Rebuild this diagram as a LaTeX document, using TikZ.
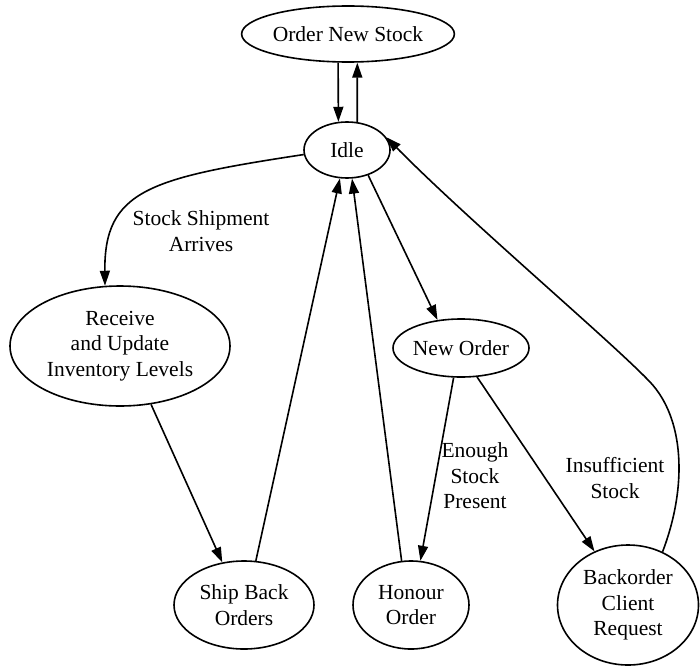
\documentclass[tikz,border=0pt]{standalone}
\usepackage{fontspec}
\setmainfont{Liberation Serif}
\usetikzlibrary{arrows.meta,shapes.geometric}
\begin{document}
\begin{tikzpicture}[x=1pt,y=-1pt,
  state/.style={draw,ellipse,line width=1.6pt,inner sep=0pt,align=center,
    font=\fontsize{21.5}{25.5}\selectfont},
  edge/.style={line width=1.6pt,-{Triangle[length=15pt,width=10pt]}},
  lbl/.style={align=center,font=\fontsize{21.5}{25.5}\selectfont}]
\useasboundingbox (0,0) rectangle (700,666);

% states
\node[state,minimum width=192pt,minimum height=56pt] (ons) at (348,34) {Order New Stock};
\node[state,minimum width=86pt,minimum height=56pt] (idle) at (347,150) {Idle};
\node[state,minimum width=220pt,minimum height=120pt] (rcv) at (120,346) {Receive\\and Update\\Inventory Levels};
\node[state,minimum width=136pt,minimum height=58pt] (neworder) at (461,348) {New Order};
\node[state,minimum width=140pt,minimum height=88pt] (ship) at (244,605) {Ship Back\\Orders};
\node[state,minimum width=116pt,minimum height=88pt] (honour) at (411,605) {Honour\\Order};
\node[state,minimum width=141pt,minimum height=120pt] (back) at (628,605) {Backorder\\Client\\Request};

% transitions
\draw[edge] (ons.-109.7) -- (idle.107.8);
\draw[edge] (idle.70.3) -- (ons.-72.2);
\draw[edge] (idle.186.8) .. controls (150,178) and (104,190) .. (rcv.104.6);
\draw[edge] (rcv.-62) -- (ship.117);
\draw[edge] (ship.75.7) -- (idle.-104);
\draw[edge] (honour.102.8) -- (idle.-80);
\draw[edge] (idle.-50) -- (neworder.130);
\draw[edge] (neworder.-104) -- (honour.78.4);
\draw[edge] (neworder.-61.8) -- (back.122.7);
\draw[edge] (back.57) .. controls (688,485) and (684,418) .. (650,382)
  .. controls (612,342) and (470,222) .. (idle.18);

% transition labels
\node[lbl] (l1) at (201,231) {Stock Shipment\\Arrives};
\node[lbl] (l2) at (475,476) {Enough\\Stock\\Present};
\node[lbl] (l3) at (615,478) {Insufficient\\Stock};
\end{tikzpicture}
\end{document}
